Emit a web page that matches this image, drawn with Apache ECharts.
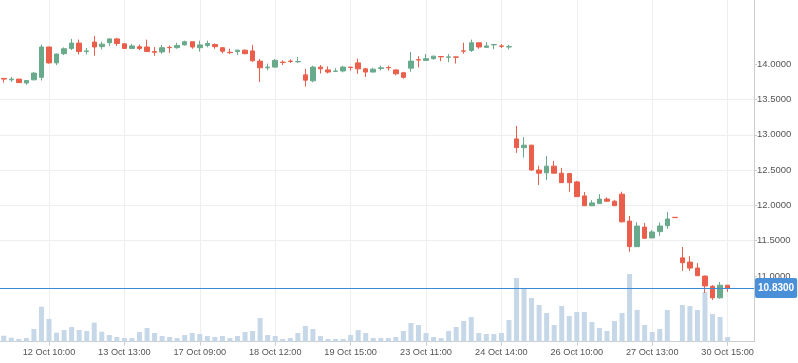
<!DOCTYPE html>
<html><head><meta charset="utf-8">
<script src="https://cdn.jsdelivr.net/npm/echarts@6/dist/echarts.min.js"></script>
<style>html,body{margin:0;padding:0;background:#fff}#c{width:798px;height:363px}</style>
</head><body><div id="c"></div>
<script>
// trading sessions: [day, first hour, last hour]
const sessions = [
  ['11 Oct', 11, 15], ['12 Oct', 9, 15], ['13 Oct', 9, 15], ['16 Oct', 9, 15],
  ['17 Oct', 9, 15], ['18 Oct', 9, 15], ['19 Oct', 9, 15], ['20 Oct', 9, 15],
  ['23 Oct', 9, 15], ['24 Oct', 9, 15], ['25 Oct', 9, 15], ['26 Oct', 9, 15],
  ['27 Oct', 9, 16], ['30 Oct', 9, 16], ['31 Oct', 9, 10]
];
const categories = [];
sessions.forEach(function (s) {
  for (let h = s[1]; h <= s[2]; h++) categories.push(s[0] + ' ' + (h < 10 ? '0' : '') + h + ':00');
});

const opens = [13.80,13.78,13.79,13.735,13.78,13.815,14.245,14.02,14.15,14.225,14.30,14.18,14.315,14.25,14.305,14.36,14.29,14.225,14.25,14.245,
14.18,14.175,14.24,14.235,14.275,14.32,14.235,14.265,14.28,14.235,14.17,14.18,14.20,14.19,14.045,13.95,13.96,14.03,14.045,14.035,
13.85,13.765,13.96,13.92,13.90,13.905,13.96,14.02,13.935,13.89,13.94,13.955,13.92,13.88,13.945,14.065,14.055,14.08,14.11,14.10,
14.105,14.19,14.195,14.305,14.24,14.275,14.26,14.245,12.943,12.819,12.854,12.502,12.462,12.557,12.457,12.452,12.333,12.135,11.996,12.026,
12.09,12.06,12.16,11.778,11.416,11.693,11.54,11.629,11.713,11.832,11.257,11.197,11.113,10.999,10.855,10.691,10.87];
const closes = [13.79,13.79,13.74,13.77,13.875,14.245,14.02,14.145,14.22,14.30,14.18,14.19,14.245,14.285,14.36,14.295,14.225,14.26,14.225,14.18,
14.17,14.235,14.235,14.265,14.32,14.245,14.275,14.295,14.25,14.185,14.165,14.20,14.15,14.05,13.95,13.96,14.055,14.025,14.04,14.04,
13.775,13.96,13.935,13.89,13.905,13.96,13.955,13.935,13.89,13.93,13.95,13.95,13.865,13.815,14.045,14.06,14.08,14.115,14.105,14.105,
14.10,14.185,14.305,14.245,14.26,14.28,14.255,14.25,12.819,12.854,12.502,12.457,12.557,12.457,12.323,12.323,12.125,11.996,12.036,12.09,
12.06,11.996,11.768,11.416,11.708,11.535,11.624,11.708,11.808,11.827,11.188,11.113,11.004,10.86,10.691,10.87,10.83];
const lows = [13.74,13.75,13.735,13.71,13.775,13.77,14.01,13.99,14.13,14.20,14.14,14.14,14.12,14.21,14.26,14.26,14.22,14.22,14.20,14.18,
14.12,14.15,14.16,14.22,14.265,14.22,14.18,14.24,14.22,14.155,14.145,14.13,14.145,14.035,13.75,13.915,13.955,13.99,14.02,14.02,
13.685,13.745,13.87,13.87,13.895,13.885,13.91,13.865,13.82,13.885,13.91,13.91,13.845,13.795,13.895,13.955,14.055,14.065,14.045,14.03,
14.01,14.15,14.175,14.22,14.235,14.215,14.23,14.21,12.745,12.676,12.492,12.289,12.358,12.452,12.323,12.194,12.12,11.991,11.991,12.021,
12.051,11.991,11.758,11.346,11.411,11.525,11.535,11.569,11.669,11.827,11.073,11.073,10.999,10.761,10.662,10.677,10.776];
const highs = [13.80,13.82,13.79,13.775,13.89,14.28,14.25,14.15,14.24,14.36,14.35,14.23,14.40,14.32,14.365,14.375,14.30,14.29,14.28,14.35,
14.245,14.275,14.265,14.305,14.335,14.32,14.335,14.335,14.295,14.245,14.22,14.205,14.21,14.275,14.075,14.01,14.075,14.055,14.07,14.105,
13.935,13.98,13.99,13.97,13.945,13.98,13.96,14.08,13.95,13.95,13.98,13.98,13.93,13.895,14.175,14.115,14.145,14.12,14.11,14.145,
14.11,14.305,14.35,14.31,14.315,14.285,14.285,14.275,13.127,12.968,12.859,12.562,12.70,12.631,12.532,12.462,12.348,12.19,12.075,12.16,
12.115,12.075,12.194,11.852,11.763,11.753,11.654,11.758,11.907,11.832,11.411,11.282,11.183,11.004,10.87,10.915,10.87];
const volumes = [180,120,80,110,380,1050,680,270,350,440,350,320,570,300,200,140,110,110,290,410,
260,170,140,110,200,260,230,170,140,170,110,170,290,320,710,200,170,80,110,260,
470,380,170,80,80,80,200,350,260,110,110,110,140,320,560,500,260,140,110,320,
440,620,740,260,230,230,260,650,1910,1580,1310,1100,860,500,1070,770,890,890,590,410,
320,620,860,2030,950,500,290,380,950,20,1100,1070,950,1490,830,740,140];
const yTicks = [11, 11.5, 12, 12.5, 13, 13.5, 14];
const lastPrice = 10.83;

const candleData = opens.map(function (o, i) { return [o, closes[i], lows[i], highs[i]]; });
const showIdx = function (i) { return i % 10 === 6; };
const FONT = 'Liberation Sans';

const chart = echarts.init(document.getElementById('c'));
chart.setOption({
  animation: false,
  backgroundColor: '#fff',
  grid: [
    { left: 0, right: 44, top: 29.0, height: 282.3 },
    { left: 0, right: 44, top: 0, bottom: 21.3 }
  ],
  xAxis: [
    { type: 'category', gridIndex: 0, data: categories, boundaryGap: true, show: false },
    { type: 'category', gridIndex: 1, data: categories, boundaryGap: true,
      axisLine: { show: true, lineStyle: { color: '#cccccc' } },
      axisTick: { show: true, interval: showIdx, alignWithLabel: true, length: 4, lineStyle: { color: '#cccccc' } },
      axisLabel: { interval: showIdx, color: '#555', fontSize: 9.2, margin: 6, fontFamily: FONT },
      splitLine: { show: true, interval: showIdx, alignWithLabel: true, lineStyle: { color: '#eeeeee' } }
    }
  ],
  yAxis: [
    { type: 'value', gridIndex: 0, position: 'right', min: 10.5, max: 14.5, interval: 0.5,
      axisLine: { show: false },
      axisTick: { show: true, length: 3, customValues: yTicks, lineStyle: { color: '#cccccc' } },
      axisLabel: { customValues: yTicks, margin: 3,
        color: '#555', fontSize: 9.5, fontFamily: FONT, formatter: function (v) { return v.toFixed(4); } },
      splitLine: { show: true, showMinLine: false, showMaxLine: false, lineStyle: { color: '#eeeeee' } }
    },
    { type: 'value', gridIndex: 1, position: 'right', min: 0, max: 10251,
      axisLine: { show: true, lineStyle: { color: '#cccccc' } },
      axisTick: { show: false }, axisLabel: { show: false }, splitLine: { show: false }
    }
  ],
  series: [
    { type: 'bar', xAxisIndex: 1, yAxisIndex: 1, data: volumes, barWidth: 5,
      itemStyle: { color: '#c6d7e8' }, z: 1 },
    { type: 'candlestick', xAxisIndex: 0, yAxisIndex: 0, data: candleData, barWidth: 5, z: 3,
      itemStyle: { color: '#6aaa8c', color0: '#ea5f4b', borderColor: '#6aaa8c', borderColor0: '#ea5f4b', borderWidth: 1 },
      markLine: {
        silent: true, animation: false, symbol: ['none', 'none'],
        data: [{ yAxis: lastPrice }],
        lineStyle: { color: '#3b8ad8', width: 1, type: 'solid' },
        label: { position: 'end', distance: 1, formatter: lastPrice.toFixed(4), color: '#fff',
          backgroundColor: '#4a90d9', padding: [5, 3, 5, 3], fontSize: 10, fontWeight: 'bold',
          fontFamily: FONT, borderRadius: 2 }
      }
    }
  ]
});
</script>
</body></html>
